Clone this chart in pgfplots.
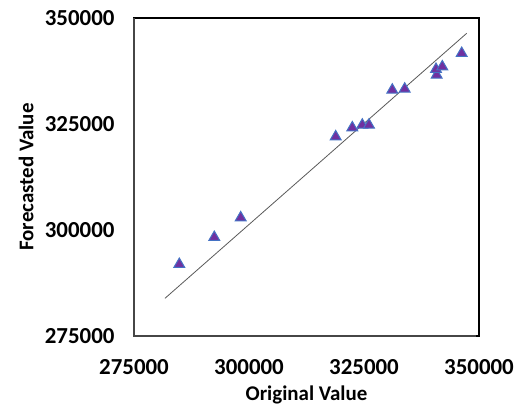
\documentclass[border=0pt]{standalone}
\usepackage{fontspec}
\setmainfont{Carlito}
\usepackage{pgfplots}
\pgfplotsset{compat=1.18}
\definecolor{mkfill}{HTML}{7030A0}
\definecolor{mkedge}{HTML}{4472C4}
\begin{document}
\begin{tikzpicture}
\path[use as bounding box] (-134bp,-74bp) rectangle (384bp,336bp);
\begin{axis}[
  scale only axis, width=345bp, height=318bp,
  anchor=south west, at={(0,0)},
  xmin=275000, xmax=350000, ymin=275000, ymax=350000,
  xtick={275000,300000,325000,350000},
  ytick={275000,300000,325000,350000},
  xticklabels={275000,300000,325000,350000},
  yticklabels={275000,300000,325000,350000},
  scaled ticks=false,
  major tick length=0pt,
  tick label style={font=\fontsize{23}{27}\selectfont\bfseries},
  xticklabel style={yshift=-20bp},
  yticklabel style={xshift=-16bp},
  xlabel={Original Value}, ylabel={Forecasted Value},
  xlabel style={font=\fontsize{21}{25}\selectfont\bfseries, at={(axis description cs:0.5,0)}, anchor=center, yshift=-59bp},
  ylabel style={font=\fontsize{21}{25}\selectfont\bfseries, at={(axis description cs:0,0.5)}, anchor=center, yshift=108bp},
  axis line style={black, line width=1.6bp},
  clip=false,
]
\addplot[gray!70!black, line width=0.8bp] coordinates {(281739,283891) (347326,346392)};
\addplot[only marks, mark=triangle*, mark size=6.3bp, mark options={fill=mkfill, draw=mkedge, line width=1bp}] coordinates {
(284848,291910)
(292457,298278)
(298196,302900)
(318848,322005)
(322457,324127)
(324630,324764)
(326087,324764)
(331152,333019)
(333848,333255)
(340800,336557)
(340652,337900)
(342022,338514)
(346239,341675)
};
\draw[gray!55!black, line width=1.6bp] (axis description cs:0,1) -- (axis description cs:0,0) -- (axis description cs:0.99,0);
\end{axis}
\end{tikzpicture}
\end{document}
